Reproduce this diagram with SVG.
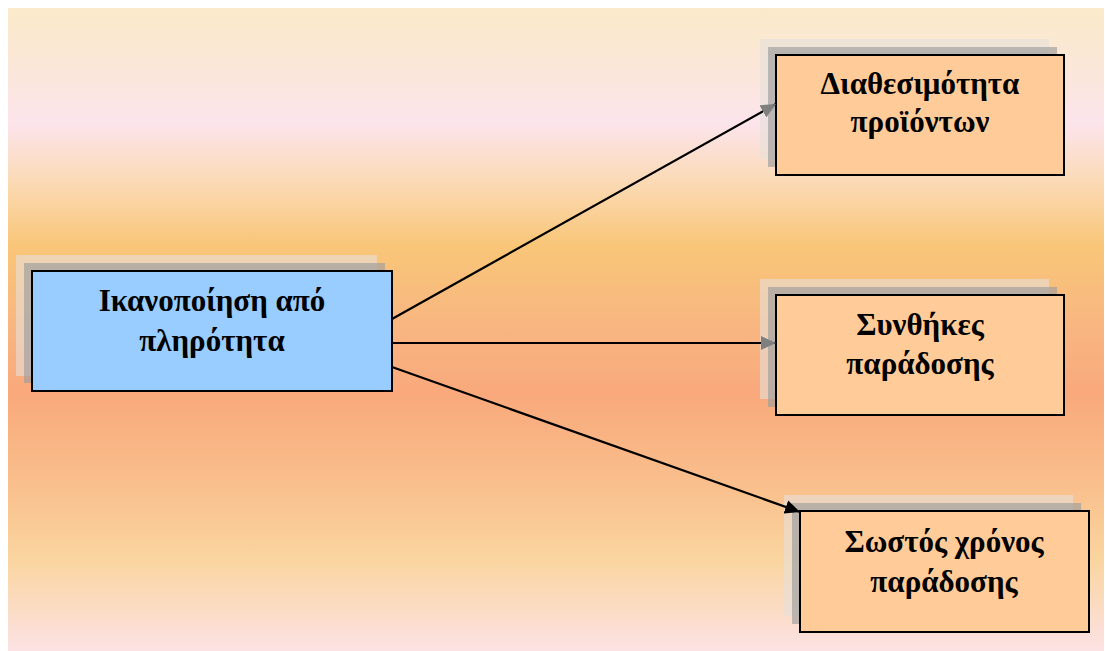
<svg xmlns="http://www.w3.org/2000/svg" width="1105" height="651" viewBox="0 0 1105 651">
<defs>
<linearGradient id="bg" x1="0" y1="0" x2="0" y2="1">
<stop offset="0" stop-color="#FBEACA"/>
<stop offset="0.09" stop-color="#FBE7D8"/>
<stop offset="0.18" stop-color="#FCE4EC"/>
<stop offset="0.27" stop-color="#FBDAB5"/>
<stop offset="0.37" stop-color="#F9C678"/>
<stop offset="0.5" stop-color="#F8B581"/>
<stop offset="0.6" stop-color="#F9A97C"/>
<stop offset="0.74" stop-color="#F9BF8C"/>
<stop offset="0.86" stop-color="#FAD5A0"/>
<stop offset="1" stop-color="#FCE2E4"/>
</linearGradient>
<marker id="ag" markerWidth="16" markerHeight="14" refX="15" refY="7" orient="auto" markerUnits="userSpaceOnUse">
<path d="M0,0 L15,7 L0,14 Z" fill="#7F7F7F"/>
</marker>
<marker id="ab" markerWidth="16" markerHeight="14" refX="15" refY="7" orient="auto" markerUnits="userSpaceOnUse">
<path d="M0,0 L15,7 L0,14 Z" fill="#000"/>
</marker>
<style>
.sh1{fill:#E6E0DA;opacity:0.6}
.sh2{fill:#9C9C9C;opacity:0.65}
.box{stroke:#000;stroke-width:2}
.blue{fill:#99CCFF}
.peach{fill:#FFCC99}
.t{font-family:"Liberation Serif","Times New Roman",serif;font-weight:bold;font-size:31px;fill:#000;text-anchor:middle}
.c{stroke:#000;stroke-width:2.2;fill:none}
</style>
</defs>
<rect x="8" y="8" width="1096" height="643" fill="url(#bg)"/>
<g id="node-ikanopoiisi">
<rect class="sh1" x="16" y="255" width="361" height="121"/>
<rect class="sh2" x="24" y="263" width="361" height="120"/>
<rect class="box blue" x="32" y="271" width="360" height="120"/>
<text class="t" x="212" y="311">Ικανοποίηση από</text>
<text class="t" x="212" y="351">πληρότητα</text>
</g>
<g id="node-diathesimotita">
<rect class="sh1" x="760" y="39" width="289" height="120"/>
<rect class="sh2" x="768" y="47" width="289" height="120"/>
<rect class="box peach" x="776" y="55" width="288" height="120"/>
<text class="t" x="920" y="94">Διαθεσιμότητα</text>
<text class="t" x="920" y="132">προϊόντων</text>
</g>
<g id="node-synthikes">
<rect class="sh1" x="760" y="279" width="289" height="120"/>
<rect class="sh2" x="768" y="287" width="289" height="120"/>
<rect class="box peach" x="776" y="295" width="288" height="120"/>
<text class="t" x="920" y="335">Συνθήκες</text>
<text class="t" x="920" y="374">παράδοσης</text>
</g>
<g id="node-sostos">
<rect class="sh1" x="784" y="495" width="289" height="121"/>
<rect class="sh2" x="792" y="503" width="289" height="121"/>
<rect class="box peach" x="800" y="511" width="289" height="121"/>
<text class="t" x="944" y="552">Σωστός χρόνος</text>
<text class="t" x="944" y="592">παράδοσης</text>
</g>
<g id="connectors">
<line class="c" x1="392" y1="319" x2="776" y2="104" marker-end="url(#ag)"/>
<line class="c" x1="392" y1="343" x2="776" y2="343" marker-end="url(#ag)"/>
<line class="c" x1="392" y1="367" x2="800" y2="512" marker-end="url(#ab)"/>
</g>
</svg>
